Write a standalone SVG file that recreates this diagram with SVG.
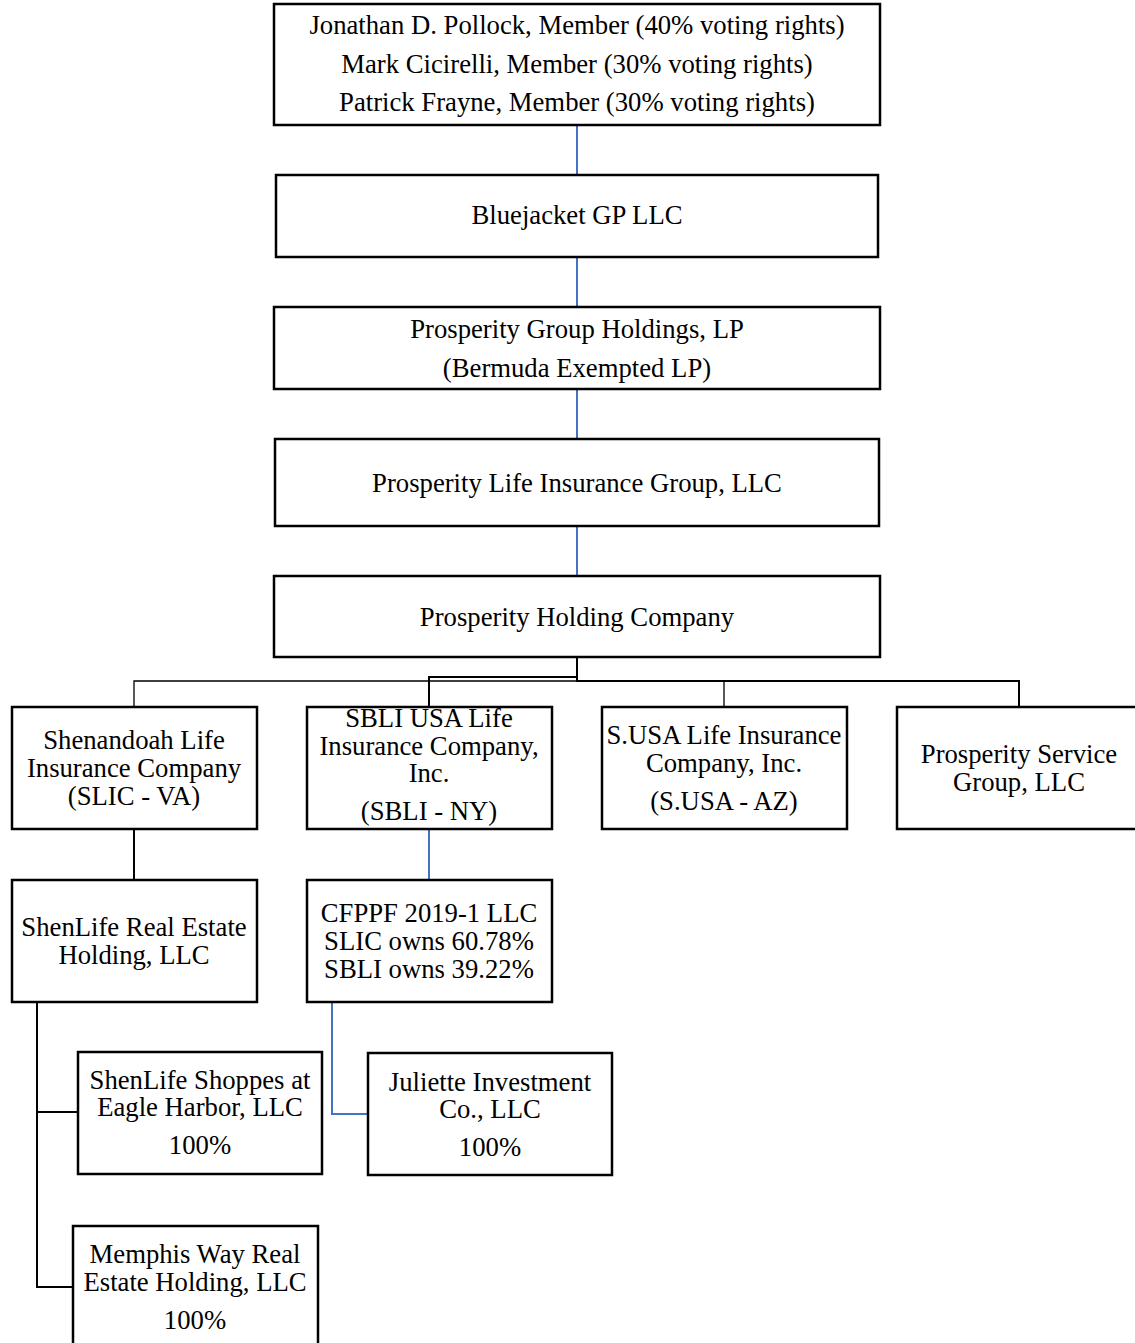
<svg xmlns="http://www.w3.org/2000/svg" width="1135" height="1343" viewBox="0 0 1135 1343">
<style>
.box{fill:#fff;stroke:#000;stroke-width:2.5}
text{font-family:"Liberation Serif","Times New Roman",serif;font-size:26.7px;fill:#000;text-anchor:middle}
.blue{stroke:#4472c4;stroke-width:2;fill:none}
.blk{stroke:#000;stroke-width:2;fill:none}
.thin{stroke:#000;stroke-width:1.3;fill:none}
</style>
<rect width="1135" height="1343" fill="#fff"/>
<g id="connectors">
<path class="blue" d="M577 125V175M577 257V307M577 389V439M577 526V576"/>
<path class="blk" d="M577 657V681H1019V707"/>
<path class="thin" d="M577 681H134V707M724 681V707"/>
<path class="blk" d="M577 677H429V707"/>
<path class="blk" d="M134 829V880"/>
<path class="blue" d="M429 829V880"/>
<path class="blk" d="M37 1002V1287H73M37 1112H78"/>
<path class="blue" d="M332 1002V1114H368"/>
</g>
<g id="n-members"><rect class="box" x="274" y="4" width="606" height="121"/>
<text x="577" y="34">Jonathan D. Pollock, Member (40% voting rights)</text>
<text x="577" y="73">Mark Cicirelli, Member (30% voting rights)</text>
<text x="577" y="111">Patrick Frayne, Member (30% voting rights)</text></g>
<g id="n-bluejacket"><rect class="box" x="276" y="175" width="602" height="82"/>
<text x="577" y="224">Bluejacket GP LLC</text></g>
<g id="n-pgh"><rect class="box" x="274" y="307" width="606" height="82"/>
<text x="577" y="338">Prosperity Group Holdings, LP</text>
<text x="577" y="377">(Bermuda Exempted LP)</text></g>
<g id="n-plig"><rect class="box" x="275" y="439" width="604" height="87"/>
<text x="577" y="492">Prosperity Life Insurance Group, LLC</text></g>
<g id="n-phc"><rect class="box" x="274" y="576" width="606" height="81"/>
<text x="577" y="626">Prosperity Holding Company</text></g>
<g id="n-slic"><rect class="box" x="12" y="707" width="245" height="122"/>
<text x="134" y="749">Shenandoah Life</text>
<text x="134" y="777">Insurance Company</text>
<text x="134" y="805">(SLIC - VA)</text></g>
<g id="n-sbli"><rect class="box" x="307" y="707" width="245" height="122"/>
<text x="429" y="727">SBLI USA Life</text>
<text x="429" y="755">Insurance Company,</text>
<text x="429" y="782">Inc.</text>
<text x="429" y="820">(SBLI - NY)</text></g>
<g id="n-susa"><rect class="box" x="602" y="707" width="245" height="122"/>
<text x="724" y="744">S.USA Life Insurance</text>
<text x="724" y="772">Company, Inc.</text>
<text x="724" y="810">(S.USA - AZ)</text></g>
<g id="n-psg"><rect class="box" x="897" y="707" width="240" height="122"/>
<text x="1019" y="763">Prosperity Service</text>
<text x="1019" y="791">Group, LLC</text></g>
<g id="n-shenlife-re"><rect class="box" x="12" y="880" width="245" height="122"/>
<text x="134" y="936">ShenLife Real Estate</text>
<text x="134" y="964">Holding, LLC</text></g>
<g id="n-cfppf"><rect class="box" x="307" y="880" width="245" height="122"/>
<text x="429" y="922">CFPPF 2019-1 LLC</text>
<text x="429" y="950">SLIC owns 60.78%</text>
<text x="429" y="978">SBLI owns 39.22%</text></g>
<g id="n-shoppes"><rect class="box" x="78" y="1052" width="244" height="122"/>
<text x="200" y="1089">ShenLife Shoppes at</text>
<text x="200" y="1116">Eagle Harbor, LLC</text>
<text x="200" y="1154">100%</text></g>
<g id="n-juliette"><rect class="box" x="368" y="1053" width="244" height="122"/>
<text x="490" y="1091">Juliette Investment</text>
<text x="490" y="1118">Co., LLC</text>
<text x="490" y="1156">100%</text></g>
<g id="n-memphis"><rect class="box" x="73" y="1226" width="245" height="130"/>
<text x="195" y="1263">Memphis Way Real</text>
<text x="195" y="1291">Estate Holding, LLC</text>
<text x="195" y="1329">100%</text></g>
</svg>
